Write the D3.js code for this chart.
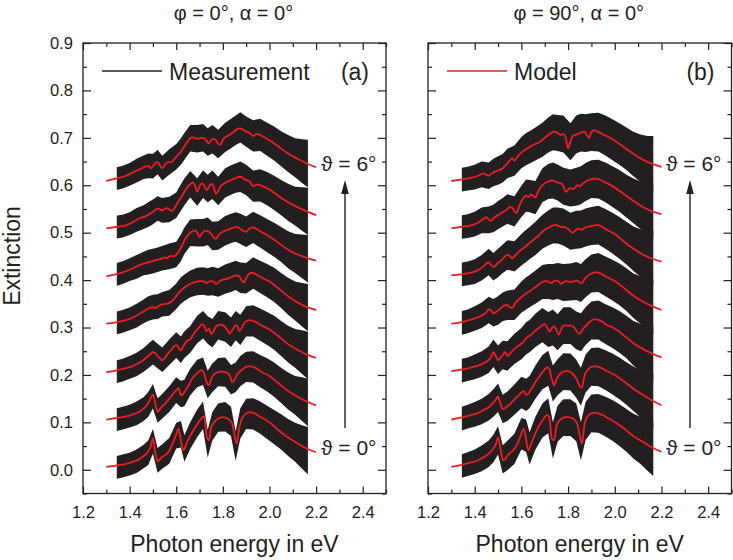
<!DOCTYPE html>
<html><head><meta charset="utf-8">
<script src="https://cdn.jsdelivr.net/npm/d3@7"></script>
<style>
body{margin:0;background:#fff}
svg{display:block}
text{font-family:"Liberation Sans",Arial,Helvetica,sans-serif;fill:#231f20}
</style>
</head><body>
<svg id="c" width="733" height="560"></svg>
<script>
// ---------- DATA ----------
const offsets = [0, 0.1, 0.2, 0.3, 0.4, 0.5, 0.6];   // vertical offset of curves (theta = 0..6 deg)
const modelX = [1.30,1.34,1.38,1.41,
 1.44,1.45,1.46,1.47,1.48,1.49,
 1.50,1.51,1.52,1.53,1.54,1.55,1.56,1.57,1.58,1.59,
 1.60,1.61,1.62,1.63,1.64,1.65,1.66,1.67,1.68,1.69,
 1.70,1.71,1.72,1.73,1.74,1.75,1.76,1.77,1.78,1.79,
 1.80,1.81,1.82,1.83,1.84,1.85,1.86,1.87,1.88,1.89,
 1.90,1.91,1.92,1.93,1.94,1.95,1.96,
 2.00,2.04,2.08,2.12,2.16,2.20];

const modelLeft = [
 [.006,.009,.012,.016, .022,.025,.029,.033,.039,.048, .066,.036,.018,.022,.027,.030,.034,.040,.050,.062, .075,.087,.062,.041,.050,.062,.071,.080,.088,.096, .103,.109,.113,.072,.062,.090,.098,.104,.108,.110, .111,.110,.108,.104,.098,.072,.055,.088,.106,.114, .119,.121,.121,.120,.118,.115,.112, .100,.083,.068,.056,.045,.037],
 [.006,.009,.012,.016, .022,.025,.029,.034,.041,.050, .059,.040,.022,.028,.034,.038,.044,.050,.056,.062, .068,.072,.057,.060,.068,.075,.085,.093,.099,.104, .108,.110,.102,.085,.078,.092,.100,.104,.106,.107, .107,.106,.104,.098,.085,.090,.100,.106,.110,.114, .117,.118,.118,.117,.115,.112,.108, .098,.082,.066,.054,.044,.036],
 [.006,.009,.014,.018, .025,.028,.032,.036,.040,.044, .048,.046,.040,.035,.031,.035,.042,.048,.054,.060, .063,.058,.052,.060,.068,.073,.075,.083,.090,.096, .102,.107,.104,.092,.098,.086,.092,.102,.105,.106, .105,.101,.094,.087,.094,.102,.105,.093,.098,.108, .113,.115,.115,.114,.112,.109,.106, .096,.081,.065,.053,.043,.036],
 [.008,.011,.015,.020, .028,.031,.034,.037,.040,.042, .043,.041,.044,.047,.049,.050,.050,.052,.055,.060, .066,.073,.078,.082,.086,.089,.092,.094,.096,.097, .098,.098,.097,.094,.097,.098,.097,.092,.095,.099, .101,.102,.103,.105,.107,.109,.110,.108,.100,.095, .104,.112,.115,.115,.113,.110,.107, .097,.082,.066,.053,.043,.037],
 [.008,.012,.018,.024, .031,.033,.035,.036,.038,.039, .040,.042,.043,.044,.046,.048,.046,.050,.051,.050, .054,.060,.068,.078,.088,.095,.100,.103,.105,.100, .091,.098,.103,.104,.102,.097,.090,.087,.094,.099, .102,.104,.106,.108,.110,.111,.112,.110,.106,.103, .102,.107,.110,.111,.109,.106,.103, .092,.078,.064,.054,.047,.041],
 [.009,.012,.015,.021, .030,.032,.033,.035,.038,.041, .044,.048,.051,.049,.047,.050,.052,.049,.046,.050, .058,.066,.074,.082,.090,.097,.102,.106,.100,.086, .098,.104,.100,.090,.096,.103,.098,.082,.088,.098, .102,.105,.108,.110,.112,.114,.116,.118,.117,.114, .111,.110,.104,.098,.100,.102,.100, .091,.077,.064,.054,.045,.037],
 [.009,.014,.019,.026, .033,.035,.038,.040,.041,.036, .040,.047,.049,.042,.036,.042,.048,.049,.049,.054, .060,.065,.071,.078,.086,.093,.099,.101,.100,.098, .099,.100,.099,.094,.088,.096,.098,.095,.087,.086, .096,.101,.104,.107,.110,.114,.118,.120,.119,.116, .113,.112,.108,.104,.107,.108,.106, .095,.081,.067,.056,.046,.038]
];

const modelRight = [
 [.006,.010,.015,.019, .027,.030,.034,.039,.045,.053, .068,.046,.020,.022,.030,.035,.039,.044,.052,.063, .076,.087,.064,.041,.052,.065,.077,.087,.096,.104, .111,.116,.110,.066,.062,.092,.102,.107,.110,.111, .111,.110,.108,.104,.096,.072,.055,.095,.110,.116, .119,.120,.120,.119,.117,.115,.112, .101,.087,.071,.059,.047,.038],
 [.006,.010,.015,.019, .026,.029,.032,.036,.041,.048, .054,.040,.028,.030,.034,.038,.043,.048,.053,.058, .063,.066,.058,.060,.069,.076,.085,.092,.099,.106, .112,.116,.112,.092,.078,.090,.099,.104,.107,.108, .108,.106,.102,.096,.088,.076,.074,.098,.108,.114, .117,.118,.118,.117,.115,.113,.110, .100,.086,.071,.058,.046,.036],
 [.008,.011,.015,.019, .025,.028,.032,.038,.048,.040, .031,.036,.042,.048,.040,.044,.050,.055,.059,.062, .066,.070,.077,.081,.084,.089,.094,.097,.101,.105, .107,.100,.092,.098,.103,.095,.085,.096,.104,.105, .104,.104,.102,.098,.090,.087,.094,.101,.105,.111, .115,.117,.117,.116,.114,.111,.107, .098,.083,.067,.055,.045,.037],
 [.008,.011,.016,.021, .028,.032,.038,.036,.030,.032, .036,.040,.044,.047,.047,.043,.041,.048,.055,.060, .064,.068,.072,.075,.078,.082,.085,.089,.093,.096, .098,.098,.095,.094,.098,.099,.097,.092,.095,.098, .097,.096,.097,.098,.099,.095,.094,.102,.107,.111, .114,.116,.117,.116,.114,.111,.108, .098,.083,.067,.055,.045,.037],
 [.010,.012,.015,.020, .030,.035,.038,.032,.028,.031, .036,.040,.045,.050,.053,.051,.046,.050,.055,.060, .064,.068,.072,.076,.080,.084,.088,.092,.097,.102, .106,.109,.112,.114,.116,.116,.114,.112,.112,.111, .108,.103,.100,.104,.108,.108,.106,.110,.112,.113, .114,.115,.116,.116,.114,.111,.108, .097,.081,.066,.054,.045,.039],
 [.009,.012,.015,.020, .030,.033,.027,.025,.030,.034, .037,.040,.043,.046,.050,.054,.053,.045,.042,.055, .066,.074,.078,.075,.080,.078,.074,.085,.094,.100, .104,.107,.109,.110,.109,.107,.105,.104,.098,.086, .090,.094,.092,.095,.100,.098,.102,.106,.109,.111, .113,.114,.114,.113,.111,.108,.106, .095,.081,.067,.054,.045,.039],
 [.009,.012,.015,.019, .025,.022,.020,.024,.027,.029, .031,.033,.036,.041,.046,.052,.057,.052,.058,.064, .069,.073,.076,.079,.082,.085,.087,.089,.092,.096, .100,.104,.108,.111,.113,.112,.108,.106,.108,.100, .078,.092,.104,.106,.108,.110,.112,.113,.106,.100, .112,.116,.115,.112,.110,.107,.105, .094,.080,.066,.054,.045,.039]
];

// measurement: centre of the noisy band and its half-height
const measX = [1.345,1.37,1.40,1.43,1.46, 1.48,1.50,1.52,1.54,1.57, 1.60,1.62,1.635,1.66,1.69, 1.715,1.735,1.755,1.78,1.81, 1.835,1.855,1.875,1.90,1.93, 1.96,1.99,2.02,2.05,2.08, 2.11,2.14,2.165];

const measLeft = [
 [.005,.008,.012,.018,.028, .036,.060,.020,.028,.040, .072,.075,.045,.072,.098, .115,.055,.092,.110,.112, .102,.050,.098,.118,.118, .110,.100,.090,.080,.068, .058,.048,.040],
 [.006,.009,.013,.019,.028, .038,.055,.025,.034,.049, .068,.060,.062,.085,.103, .108,.080,.094,.106,.106, .090,.095,.108,.117,.117, .108,.100,.090,.078,.066, .057,.049,.042],
 [.007,.010,.016,.022,.032, .040,.048,.040,.032,.048, .063,.053,.064,.075,.096, .106,.095,.088,.105,.101, .090,.104,.095,.113,.114, .106,.098,.089,.077,.065, .056,.048,.041],
 [.010,.013,.018,.025,.034, .040,.043,.044,.049,.052, .066,.078,.084,.092,.097, .098,.096,.098,.095,.102, .106,.110,.105,.104,.115, .107,.099,.090,.078,.066, .056,.048,.042],
 [.012,.016,.022,.028,.035, .038,.040,.043,.046,.050, .054,.068,.083,.100,.100, .100,.103,.093,.094,.104, .109,.112,.108,.102,.111, .103,.094,.085,.075,.064, .056,.050,.045],
 [.012,.014,.019,.027,.033, .038,.044,.051,.047,.049, .058,.074,.086,.102,.086, .102,.093,.101,.088,.105, .111,.115,.118,.111,.098, .100,.093,.084,.074,.064, .056,.050,.045],
 [.014,.017,.023,.031,.038, .041,.040,.049,.036,.049, .060,.071,.082,.099,.098, .100,.091,.097,.087,.101, .109,.116,.122,.113,.104, .106,.097,.088,.077,.067, .058,.051,.046]
];

const measRight = [
 [.008,.012,.017,.024,.034, .045,.062,.022,.030,.044, .076,.072,.045,.077,.104, .114,.062,.097,.110,.110, .100,.060,.103,.119,.119, .112,.104,.094,.083,.071, .062,.052,.045],
 [.008,.012,.017,.023,.032, .041,.052,.028,.034,.048, .063,.058,.064,.085,.106, .114,.082,.095,.107,.106, .092,.075,.103,.117,.117, .110,.102,.093,.082,.071, .061,.051,.044],
 [.009,.012,.017,.023,.032, .046,.032,.042,.040,.055, .066,.077,.082,.094,.105, .096,.100,.090,.104,.104, .094,.090,.103,.115,.116, .107,.100,.091,.080,.067, .058,.050,.044],
 [.010,.013,.019,.026,.037, .031,.036,.044,.047,.048, .064,.072,.077,.085,.096, .097,.096,.098,.095,.096, .098,.094,.104,.114,.116, .108,.100,.091,.080,.067, .058,.050,.044],
 [.012,.014,.018,.026,.038, .028,.036,.045,.053,.050, .064,.072,.078,.088,.102, .110,.115,.115,.112,.103, .106,.107,.111,.114,.116, .108,.099,.089,.078,.066, .057,.050,.046],
 [.012,.014,.018,.026,.027, .030,.037,.043,.050,.045, .066,.078,.077,.074,.100, .108,.110,.106,.098,.094, .097,.100,.107,.113,.113, .106,.097,.088,.077,.067, .058,.050,.046],
 [.012,.014,.017,.023,.020, .027,.031,.036,.046,.052, .069,.076,.080,.087,.096, .106,.112,.110,.108,.092, .107,.111,.110,.112,.112, .105,.096,.087,.077,.066, .057,.050,.046]
];

const noiseLeft  = [.024,.024,.024,.025,.025, .026,.026,.026,.026,.027, .027,.028,.028,.028,.029, .029,.029,.030,.030,.031, .031,.031,.032,.032,.033, .034,.035,.036,.037,.039, .041,.046,.050];
const noiseRight = [.025,.025,.026,.027,.028, .029,.030,.030,.031,.032, .033,.034,.034,.035,.036, .037,.038,.038,.039,.039, .040,.040,.040,.040,.041, .042,.043,.044,.045,.047, .050,.054,.058];

const xTicks = [1.2,1.4,1.6,1.8,2.0,2.2,2.4];
const xMinor = [1.3,1.5,1.7,1.9,2.1,2.3,2.5];
const yTicks = [0.0,0.1,0.2,0.3,0.4,0.5,0.6,0.7,0.8,0.9];
const yMinor = [-0.05,0.05,0.15,0.25,0.35,0.45,0.55,0.65,0.75,0.85];
const titles = ["\u03c6 = 0\u00b0, \u03b1 = 0\u00b0", "\u03c6 = 90\u00b0, \u03b1 = 0\u00b0"];
const legendLabels = ["Measurement", "Model"];
const panelTags = ["(a)", "(b)"];
const angleLabels = ["\u03d1 = 6\u00b0", "\u03d1 = 0\u00b0"];
const xTitle = "Photon energy in eV";
const yTitle = "Extinction";

// ---------- DRAW ----------
const INK = "#231f20", RED = "#ed1c24";
const svg = d3.select("#c");
const y = d3.scaleLinear().domain([-0.05, 0.9]).range([493.5, 43]);

const panels = [
  {x0: 83, x1: 386, model: modelLeft, meas: measLeft, noise: noiseLeft},
  {x0: 428, x1: 731.5, model: modelRight, meas: measRight, noise: noiseRight}
];

panels.forEach((p, pi) => {
  const x = d3.scaleLinear().domain([1.2, 2.5]).range([p.x0, p.x1]);
  const g = svg.append("g");

  // measurement bands
  p.meas.forEach((c, k) => {
    const area = d3.area()
      .x((d, i) => x(measX[i]))
      .y0((d, i) => y(offsets[k] + d - p.noise[i]))
      .y1((d, i) => y(offsets[k] + d + p.noise[i]));
    g.append("path").attr("d", area(c)).attr("fill", INK);
  });
  // model lines
  p.model.forEach((c, k) => {
    const line = d3.line()
      .x((d, i) => x(modelX[i]))
      .y(d => y(offsets[k] + d))
      .curve(d3.curveMonotoneX);
    g.append("path").attr("d", line(c)).attr("fill", "none")
      .attr("stroke", RED).attr("stroke-width", 1.8);
  });

  const styleAxis = sel => {
    sel.select(".domain").remove();
    sel.attr("color", INK);
    sel.selectAll("line").attr("stroke-width", 1.2);
    sel.selectAll("text").style("font-size", "16.5px").attr("fill", INK);
  };
  // bottom
  g.append("g").attr("transform", "translate(0,493.5)")
    .call(d3.axisBottom(x).tickValues(xTicks).tickSize(-7).tickPadding(13).tickFormat(d3.format(".1f")))
    .call(styleAxis);
  g.append("g").attr("transform", "translate(0,493.5)")
    .call(d3.axisBottom(x).tickValues(xMinor).tickSize(-4).tickFormat(""))
    .call(styleAxis);
  // top
  g.append("g").attr("transform", "translate(0,43)")
    .call(d3.axisTop(x).tickValues(xTicks).tickSize(-7).tickFormat(""))
    .call(styleAxis);
  g.append("g").attr("transform", "translate(0,43)")
    .call(d3.axisTop(x).tickValues(xMinor).tickSize(-4).tickFormat(""))
    .call(styleAxis);
  // left
  g.append("g").attr("transform", `translate(${p.x0},0)`)
    .call(d3.axisLeft(y).tickValues(yTicks).tickSize(-8).tickPadding(10)
      .tickFormat(pi === 0 ? d3.format(".1f") : ""))
    .call(styleAxis);
  g.append("g").attr("transform", `translate(${p.x0},0)`)
    .call(d3.axisLeft(y).tickValues(yMinor).tickSize(-4).tickFormat(""))
    .call(styleAxis);
  // right
  g.append("g").attr("transform", `translate(${p.x1},0)`)
    .call(d3.axisRight(y).tickValues(yTicks).tickSize(-8).tickFormat(""))
    .call(styleAxis);
  g.append("g").attr("transform", `translate(${p.x1},0)`)
    .call(d3.axisRight(y).tickValues(yMinor).tickSize(-4).tickFormat(""))
    .call(styleAxis);

  // frame
  g.append("rect").attr("x", p.x0).attr("y", 43).attr("width", p.x1 - p.x0).attr("height", 450.5)
    .attr("fill", "none").attr("stroke", INK).attr("stroke-width", 1.3);

  // title
  g.append("text").attr("x", (p.x0 + p.x1) / 2 - 1).attr("y", 20).attr("text-anchor", "middle")
    .style("font-size", "20px").text(titles[pi]);
  // x title
  g.append("text").attr("x", (p.x0 + p.x1) / 2).attr("y", 552).attr("text-anchor", "middle")
    .style("font-size", "23px").text(xTitle);

  // legend
  g.append("line").attr("x1", p.x0 + 19).attr("x2", p.x0 + 79).attr("y1", 71).attr("y2", 71)
    .attr("stroke", pi === 0 ? INK : RED).attr("stroke-width", 1.4);
  g.append("text").attr("x", p.x0 + 86).attr("y", 80).style("font-size", "23px").text(legendLabels[pi]);
  g.append("text").attr("x", p.x1 - 17).attr("y", 80).attr("text-anchor", "end")
    .style("font-size", "23px").text(panelTags[pi]);

  // angle labels and arrow
  const ax = p.x0 + 262;
  g.append("text").attr("x", p.x0 + 238).attr("y", 171).style("font-size", "21px").text(angleLabels[0]);
  g.append("text").attr("x", p.x0 + 238).attr("y", 455).style("font-size", "21px").text(angleLabels[1]);
  g.append("line").attr("x1", ax).attr("x2", ax).attr("y1", 428).attr("y2", 190)
    .attr("stroke", INK).attr("stroke-width", 1.4);
  g.append("path").attr("d", `M${ax},180 L${ax - 3.8},194 L${ax + 3.8},194 Z`).attr("fill", INK);
});

// y title
svg.append("text").attr("transform", "translate(20,256) rotate(-90)").attr("text-anchor", "middle")
  .style("font-size", "23px").text(yTitle);
</script>
</body></html>
